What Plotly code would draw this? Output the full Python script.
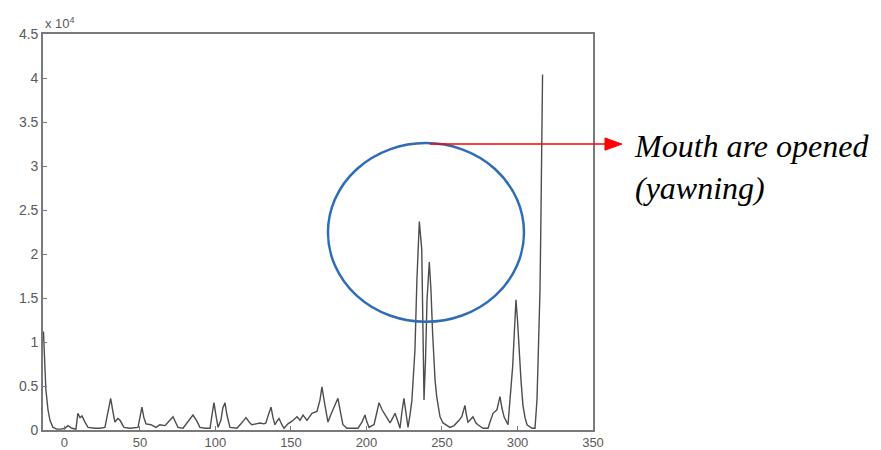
import plotly.graph_objects as go

# frame index (x) and signal value in units of 1e4 (y)
frame = [-13.9, -12.3, -10.9, -9.6, -7.6, -5.0, -2.3, 0.3, 2.3, 5.0, 7.6,
         8.9, 10.3, 11.6, 13.6, 15.6, 20.2, 23.5, 26.8, 28.8, 30.6, 32.1, 33.4, 35.4, 36.8, 39.4,
         43.4, 48.7, 50.0, 51.3, 52.6, 54.0, 57.3, 60.6, 63.2, 66.6, 69.2, 71.9, 73.8, 75.2,
         78.5, 81.8, 85.1, 87.7, 89.7, 93.1, 96.4, 97.7, 99.0, 100.3, 101.7, 103.6, 104.9,
         106.3, 107.6, 109.6, 112.3, 114.2, 116.9, 120.2, 122.8, 124.2, 126.8, 129.5, 132.1,
         133.4, 134.8, 136.8, 138.1, 139.4, 140.7, 142.1, 144.0, 145.4, 148.0, 150.7, 154.0,
         156.0, 158.0, 160.6, 163.9, 167.2, 169.2, 170.5, 172.5, 174.5, 176.5, 177.8, 179.8,
         181.1, 182.5, 184.4, 187.1, 190.4, 194.4, 197.0, 199.0, 200.3, 201.7, 203.6, 205.0,
         207.0, 208.3, 210.3, 212.9, 215.6, 217.5, 218.9, 220.9, 222.2, 223.5, 224.8, 226.2,
         227.5, 228.8, 230.1, 232.1, 233.4, 235.0, 236.6, 237.4, 238.1, 239.1, 240.1, 241.6,
         242.7, 243.8, 245.4, 246.5, 248.7, 250.7, 253.3, 255.3, 258.0, 260.0, 261.3, 263.1,
         264.2, 265.2, 266.2, 267.2, 268.5, 270.5, 272.5, 273.8, 277.2, 280.5, 281.8, 283.8,
         286.4, 288.4, 289.7, 291.1, 293.7, 295.0, 296.8, 298.0, 299.0, 300.0, 301.0, 302.3,
         303.6, 305.0, 306.3, 309.6, 311.6, 312.9, 313.6, 314.2, 314.9, 315.4, 316.0, 316.6]
value = [1.12, 0.46, 0.23, 0.11, 0.03, 0.01, 0.01, 0.02, 0.05, 0.02, 0.01,
         0.19, 0.14, 0.16, 0.09, 0.03, 0.02, 0.02, 0.03, 0.21, 0.36, 0.21, 0.09, 0.13, 0.11, 0.03,
         0.02, 0.03, 0.14, 0.26, 0.14, 0.07, 0.06, 0.03, 0.06, 0.05, 0.10, 0.15, 0.08, 0.03,
         0.02, 0.09, 0.17, 0.10, 0.03, 0.02, 0.02, 0.17, 0.31, 0.17, 0.03, 0.11, 0.25,
         0.31, 0.17, 0.03, 0.02, 0.02, 0.07, 0.14, 0.08, 0.06, 0.07, 0.08, 0.07,
         0.08, 0.16, 0.26, 0.14, 0.06, 0.10, 0.13, 0.06, 0.02, 0.07, 0.10, 0.15,
         0.11, 0.17, 0.11, 0.19, 0.21, 0.34, 0.49, 0.28, 0.09, 0.18, 0.23, 0.32,
         0.36, 0.23, 0.06, 0.02, 0.02, 0.02, 0.09, 0.17, 0.09, 0.03, 0.05, 0.06,
         0.21, 0.31, 0.23, 0.15, 0.08, 0.14, 0.19, 0.09, 0.02, 0.21, 0.36, 0.19,
         0.03, 0.17, 0.34, 0.91, 1.71, 2.37, 2.05, 1.14, 0.34, 0.80, 1.48, 1.91,
         1.59, 1.10, 0.57, 0.38, 0.15, 0.08, 0.05, 0.03, 0.05, 0.08, 0.11, 0.15,
         0.23, 0.28, 0.17, 0.09, 0.11, 0.15, 0.08, 0.06, 0.02, 0.02, 0.09, 0.19,
         0.23, 0.38, 0.25, 0.15, 0.06, 0.34, 0.72, 1.14, 1.48, 1.25, 0.91, 0.57,
         0.28, 0.14, 0.06, 0.02, 0.02, 0.34, 0.76, 1.10, 1.59, 2.24, 3.45, 4.04]

x_ticks = [0, 50, 100, 150, 200, 250, 300, 350]
y_ticks = [0, 0.5, 1, 1.5, 2, 2.5, 3, 3.5, 4, 4.5]

# highlighted region (yawning)
ellipse_x = [174.5, 304.3]
ellipse_y = [1.23, 3.26]
label_text = "Mouth are opened<br>(yawning)"

fig = go.Figure()
fig.add_trace(go.Scatter(x=frame, y=value, mode="lines",
                         line=dict(color="#4d4d4d", width=1.4), showlegend=False,
                         hoverinfo="skip"))

axis_common = dict(showgrid=False, zeroline=False, showline=True, linecolor="#7a7a7a",
                   linewidth=1.6, mirror=True, ticks="inside", ticklen=4,
                   automargin=False, tickcolor="#7a7a7a")
fig.update_xaxes(range=[-14.2, 350], tickvals=x_ticks,
                 tickfont=dict(family="Liberation Sans", size=13, color="#5a5a5a"),
                 **axis_common)
fig.update_yaxes(range=[0, 4.5], tickvals=y_ticks,
                 tickfont=dict(family="Liberation Sans", size=14, color="#5a5a5a"),
                 **axis_common)

fig.add_shape(type="circle", xref="x", yref="y",
              x0=ellipse_x[0], x1=ellipse_x[1], y0=ellipse_y[0], y1=ellipse_y[1],
              line=dict(color="#2E6DB4", width=2.5), layer="above")

# red arrow from top of ellipse to the label (paper coordinates)
arrow_y = 0.722
fig.add_shape(type="line", xref="paper", yref="paper",
              x0=0.7036, x1=1.024, y0=arrow_y, y1=arrow_y,
              line=dict(color="#ff0000", width=1.5))
fig.add_shape(type="path", xref="paper", yref="paper",
              path=f"M 1.0218 {arrow_y + 0.0155} L 1.0527 {arrow_y} L 1.0218 {arrow_y - 0.0155} Z",
              fillcolor="#ff0000", line=dict(color="#ff0000", width=1))

fig.add_annotation(xref="paper", yref="paper", x=1.071, y=0.663,
                   xanchor="left", yanchor="middle", align="left", showarrow=False,
                   text=label_text,
                   font=dict(family="Liberation Serif", size=32, color="#000000",
                             style="italic"))

fig.add_annotation(xref="paper", yref="paper", x=0.0, y=1.0, xanchor="left",
                   yanchor="bottom", showarrow=False, yshift=1,
                   text="x 10<sup>4</sup>",
                   font=dict(family="Liberation Sans", size=13, color="#5a5a5a"))

fig.update_layout(width=881, height=450, margin=dict(l=43, r=288, t=34, b=20),
                  paper_bgcolor="white", plot_bgcolor="white")

fig.write_html("out.html")
